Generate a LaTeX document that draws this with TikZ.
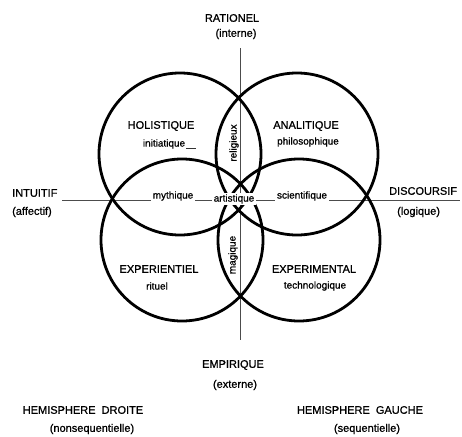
\documentclass[tikz,border=0pt]{standalone}
\usepackage{fontspec}
\setmainfont{Liberation Sans}
\newfontfamily\heavyfont[FakeBold=0.9]{Liberation Sans}
\usetikzlibrary{positioning}
\tikzset{
  ring/.style={circle, draw=black, line width=2.8pt, minimum size=162pt, inner sep=0pt},
  axisline/.style={draw=black!70, line width=0.7pt},
  capslabel/.style={font=\heavyfont\fontsize{11}{12}\selectfont, text=black, inner sep=1pt},
  lowlabel/.style={font=\heavyfont\fontsize{10}{11}\selectfont, text=black, inner sep=1pt},
  gaplabel/.style={lowlabel, fill=white, inner sep=1.5pt}
}
\begin{document}
\begin{tikzpicture}[x=1pt, y=-1pt]
  \useasboundingbox (0,0) rectangle (462,436);
  % axes
  \coordinate (axtop) at (240,48);
  \coordinate (axbot) at (240,340);
  \coordinate (axleft) at (62,200);
  \coordinate (axright) at (460,200);
  \draw[axisline] (axtop) -- (axbot);
  \draw[axisline] (axleft) -- (axright);
  % four circles
  \node[ring] (holi) at (180,154) {};
  \node[ring] (anal) at (297,154) {};
  \node[ring] (expt) at (182,240) {};
  \node[ring] (expm) at (299,240) {};
  % poles
  \node[capslabel] (ratio) at (232,18) {RATIONEL};
  \node[capslabel] (inter) at (236,34) {(interne)};
  \node[capslabel, anchor=west] (intui) at (11,193) {INTUITIF};
  \node[capslabel, anchor=west] (affec) at (11,212) {(affectif)};
  \node[capslabel, anchor=west] (disco) at (388,191) {DISCOURSIF};
  \node[capslabel, anchor=west] (logiq) at (396,212) {(logique)};
  \node[capslabel] (empir) at (233,365) {EMPIRIQUE};
  \node[capslabel] (exter) at (235,385) {(externe)};
  % circle labels
  \node[capslabel] (holist) at (161,126) {HOLISTIQUE};
  \node[lowlabel] (initia) at (164,144) {initiatique};
  \draw[line width=0.6pt, black!80] (initia.base east) ++(0,2) coordinate (ulstart) -- ++(10,0) coordinate (ulend);
  \node[capslabel] (analit) at (306,126) {ANALITIQUE};
  \node[lowlabel] (philo) at (308,142) {philosophique};
  \node[capslabel] (experi) at (159,269) {EXPERIENTIEL};
  \node[lowlabel] (rituel) at (157,286) {rituel};
  \node[capslabel] (expera) at (314,269) {EXPERIMENTAL};
  \node[lowlabel] (techno) at (315,286) {technologique};
  % lens labels
  \node[lowlabel, rotate=90] (relig) at (234,143) {religieux};
  \node[lowlabel, rotate=90] (magiq) at (233,255) {magique};
  \node[gaplabel] (mythi) at (173,196) {mythique};
  \node[gaplabel] (artis) at (234,199) {artistique};
  \node[gaplabel] (scien) at (302,196) {scientifique};
  % hemispheres
  \node[capslabel] (hemidr) at (83,410) {HEMISPHERE\ \ DROITE};
  \node[capslabel] (nonseq) at (92,429) {(nonsequentielle)};
  \node[capslabel] (hemiga) at (360,410) {HEMISPHERE\ \ GAUCHE};
  \node[capslabel] (seq) at (367,429) {(sequentielle)};
\end{tikzpicture}
\end{document}
